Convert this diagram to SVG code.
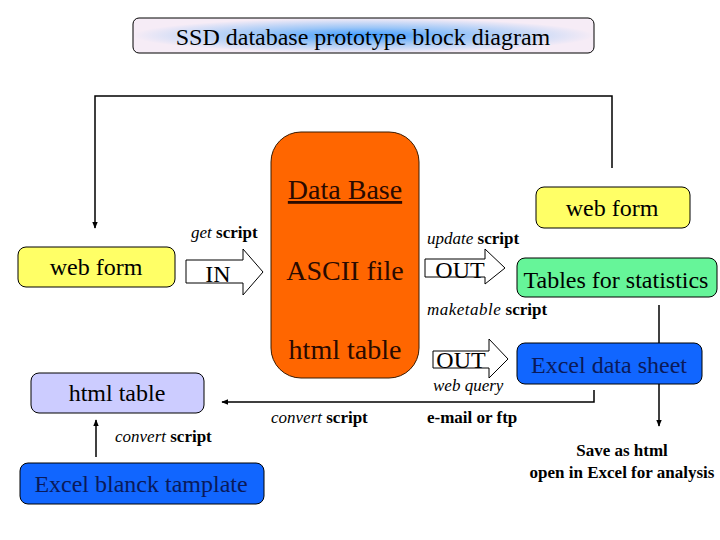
<svg xmlns="http://www.w3.org/2000/svg" width="720" height="540" viewBox="0 0 720 540" font-family="'Liberation Serif', 'Times New Roman', 'DejaVu Serif', serif">
<defs>
<radialGradient id="tg" cx="50%" cy="50%" r="50%">
<stop offset="0" stop-color="#3d9bff"/>
<stop offset="0.45" stop-color="#9cc6f7"/>
<stop offset="1" stop-color="#f6ecf6"/>
</radialGradient>
<marker id="ah" viewBox="0 0 10 10" refX="9" refY="5" markerWidth="7" markerHeight="7" markerUnits="userSpaceOnUse" orient="auto">
<path d="M0,1 L10,5 L0,9 z" fill="#000"/>
</marker>
<style>
.box{stroke:#000;stroke-width:1}
text{font-family:'Liberation Serif','Times New Roman','DejaVu Serif',serif;fill:#000}
.big{font-size:24px;text-anchor:middle}
.db{font-size:28px;text-anchor:middle;fill:#2a0a00}
.sm{font-size:17px}
.i{font-style:italic}
.b{font-weight:bold}
.ln{fill:none;stroke:#000;stroke-width:1.5}
.ba{fill:#fff;stroke:#000;stroke-width:1}
</style>
</defs>
<rect width="720" height="540" fill="#fff"/>

<g id="title">
<rect class="box" x="133" y="18" width="461" height="35" rx="6" fill="url(#tg)"/>
<text class="big" x="363" y="45">SSD database prototype block diagram</text>
</g>

<g id="connectors">
<polyline class="ln" points="612,168 612,96 95,96 95,228" marker-end="url(#ah)"/>
<polyline class="ln" points="594,390 594,402 222,402" marker-end="url(#ah)"/>
<line class="ln" x1="659" y1="305" x2="659" y2="426" marker-end="url(#ah)"/>
<line class="ln" x1="96" y1="457" x2="96" y2="420" marker-end="url(#ah)"/>
</g>

<g id="webform-left">
<rect class="box" x="18" y="247" width="157" height="40" rx="8" fill="#ffff66"/>
<text class="big" x="96" y="275">web form</text>
</g>

<g id="in-arrow">
<polygon class="ba" points="186,260 243,260 243,249 263,272 243,295 243,283 186,283"/>
<text class="big" x="218" y="282">IN</text>
<text class="sm" x="191" y="238"><tspan class="i">get</tspan> <tspan class="b">script</tspan></text>
</g>

<g id="database">
<rect x="271" y="132" width="148" height="246" rx="30" fill="#ff6600" stroke="#3a1a00" stroke-width="1"/>
<text class="db" x="345" y="199" text-decoration="underline">Data Base</text>
<text class="db" x="345" y="280" >ASCII file</text>
<text class="db" x="345" y="359">html table</text>
</g>

<g id="webform-right">
<rect class="box" x="536" y="187" width="154" height="41" rx="8" fill="#ffff66"/>
<text class="big" x="612" y="216">web form</text>
</g>

<g id="out-update">
<text class="sm" x="427" y="244"><tspan class="i">update</tspan> <tspan class="b">script</tspan></text>
<polygon class="ba" points="425,259 485,259 485,249 505,268 485,284 485,277 425,277"/>
<text class="big" x="460" y="278">OUT</text>
</g>

<g id="tables-stats">
<rect class="box" x="517" y="258" width="200" height="39" rx="8" fill="#66f599"/>
<text class="big" x="616" y="288">Tables for statistics</text>
</g>

<g id="out-maketable">
<text class="sm" x="427" y="315"><tspan class="i" letter-spacing="0.5">maketable</tspan> <tspan class="b">script</tspan></text>
<polygon class="ba" points="433,351 489,351 489,339 508,359 489,378 489,368 433,368"/>
<text class="big" x="461" y="368">OUT</text>
<text class="sm i" x="433" y="391">web query</text>
</g>

<g id="excel-data">
<rect class="box" x="517" y="343" width="185" height="41" rx="8" fill="#1166ff"/>
<text class="big" x="609" y="373" style="fill:#0a1a5a">Excel data sheet</text>
</g>

<g id="labels">
<text class="sm" x="271" y="423"><tspan class="i">convert</tspan> <tspan class="b">script</tspan></text>
<text class="sm b" x="427" y="423">e-mail or ftp</text>
<text class="sm b" x="622" y="456" text-anchor="middle">Save as html</text>
<text class="sm b" x="622" y="478" text-anchor="middle">open in Excel for analysis</text>
<text class="sm" x="115" y="442"><tspan class="i">convert</tspan> <tspan class="b">script</tspan></text>
</g>

<g id="html-table-left">
<rect class="box" x="31" y="373" width="173" height="40" rx="8" fill="#ccccff"/>
<text class="big" x="117" y="401">html table</text>
</g>

<g id="excel-template">
<rect class="box" x="20" y="463" width="244" height="41" rx="8" fill="#1166ff"/>
<text class="big" x="141" y="492" style="fill:#0a1a5a">Excel blanck tamplate</text>
</g>
</svg>
